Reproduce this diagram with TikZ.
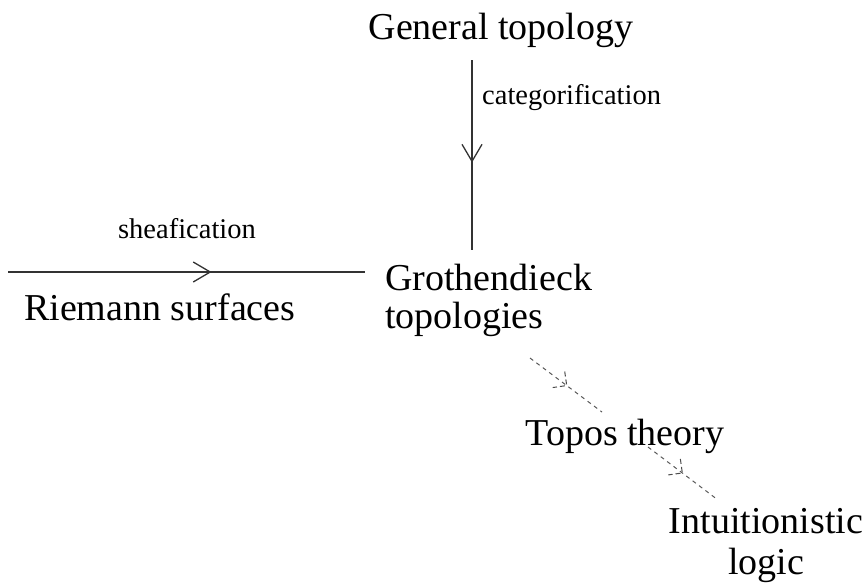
\documentclass[tikz,border=0pt]{standalone}
\usepackage{fontspec}
\setmainfont{Liberation Serif}
\usetikzlibrary{arrows.meta,decorations.markings}
\begin{document}
\begin{tikzpicture}[x=1pt,y=-1pt,
  concept/.style={inner sep=0pt, font=\fontsize{38}{38}\selectfont},
  edgelabel/.style={inner sep=0pt, font=\fontsize{28.5}{30}\selectfont},
  solidedge/.style={draw=black!80, line width=1.3pt, postaction={decorate},
    decoration={markings, mark=at position #1 with {\arrow{Straight Barb[length=17pt,width=20pt]}}}},
  dashededge/.style={draw=black!65, line width=1pt, dash pattern=on 4pt off 4pt, postaction={decorate},
    decoration={markings, mark=at position #1 with {\draw[black!70, line width=1pt, dash pattern=on 5pt off 3pt] (-10,-10) -- (0,0) -- (-10,10);}}}
]
\useasboundingbox (0,0) rectangle (866,584);

\node[concept, anchor=base] (gt) at (501,39) {General topology};
\node[edgelabel, anchor=base west] (cat) at (482,104) {categorification};
\node[edgelabel, anchor=base] (sh) at (187,238) {sheafication};
\node[concept, anchor=base west] (rs) at (24,320) {Riemann surfaces};
\node[concept, anchor=base west] (gr) at (385,290) {\begin{tabular}[t]{@{}l@{}}Grothendieck\\topologies\end{tabular}};
\node[concept, anchor=base] (tt) at (625,445) {Topos theory};
\node[concept, anchor=base] (il) at (766,533) {\def\arraystretch{1.1}\begin{tabular}[t]{@{}c@{}}Intuitionistic\\logic\end{tabular}};

\coordinate (gt-out) at (472,60);
\coordinate (gr-top) at (472,250);
\coordinate (rs-out) at (8,272);
\coordinate (gr-left) at (365,272);
\coordinate (gr-out) at (530,358);
\coordinate (tt-in) at (602,412);
\coordinate (tt-out) at (648,447);
\coordinate (il-in) at (718,500);

\draw[solidedge=0.54] (gt-out) -- (gr-top);
\draw[solidedge=0.57] (rs-out) -- (gr-left);
\draw[dashededge=0.51] (gr-out) -- (tt-in);
\draw[dashededge=0.49] (tt-out) -- (il-in);
\end{tikzpicture}
\end{document}
